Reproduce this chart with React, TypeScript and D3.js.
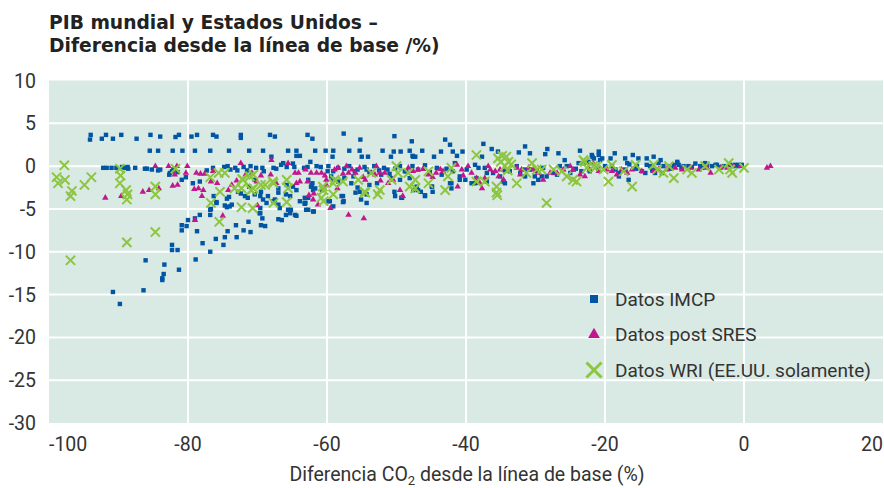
import React, { useEffect, useRef } from 'react';
import * as d3 from 'd3';

type Pt = [number, number];

// Datos IMCP (blue squares) — [CO2 diff %, GDP diff %]
const imcpData: Pt[] = [
  [-94.0, 3.65], [-91.8, 3.65], [-89.6, 3.65], [-85.4, 3.65], [-81.3, 3.65], [-78.7, 3.65], [-76.4, 3.65], [-72.4, 3.65], [-68.2, 3.65], [-62.8, 3.65],
  [-94.1, 3.1], [-92.4, 3.2], [-90.8, 3.2], [-87.4, 3.2], [-84.0, 3.45], [-81.8, 3.4], [-79.5, 3.45], [-75.9, 3.45], [-72.4, 3.3], [-67.5, 3.45], [-62.1, 3.2],
  [-57.6, 3.8], [-55.2, 3.1], [-50.3, 3.5], [-47.8, 2.9], [-43.0, 3.1], [-42.3, 2.5], [-37.5, 2.6], [-31.5, 2.3],
  [-85.5, 1.8], [-84.3, 1.8], [-82.2, 1.8], [-80.8, 1.8], [-79.0, 1.8], [-76.8, 1.8], [-74.1, 1.8], [-71.2, 1.8], [-69.2, 1.8], [-65.6, 1.8], [-64.4, 1.8],
  [-61.7, 1.8], [-60.2, 1.8], [-59.1, 1.8], [-56.8, 1.8], [-55.3, 1.8], [-52.0, 1.8], [-50.4, 1.7], [-49.4, 1.7], [-48.1, 1.8], [-46.3, 1.8], [-43.6, 1.7],
  [-41.9, 1.7], [-40.5, 1.7], [-36.3, 2.0], [-35.4, 1.7], [-32.4, 1.6], [-28.3, 2.0], [-23.6, 1.8],
  [-68.0, 1.1], [-64.4, 1.2], [-63.9, 1.2], [-59.2, 1.1], [-55.0, 1.1], [-54.1, 1.1], [-50.8, 1.1], [-47.6, 1.1], [-47.3, 1.1], [-44.6, 1.1], [-41.3, 1.2],
  [-37.7, 1.1], [-30.8, 1.5], [-28.6, 1.4], [-26.7, 1.5], [-21.9, 1.3], [-21.8, 1.1], [-20.9, 1.7], [-18.6, 1.5], [-16.0, 1.3], [-13.0, 1.1], [-20.4, 0.9],
  [-21.6, 0.9], [-17.1, 0.9], [-15.2, 0.9], [-12.0, 0.7], [-25.8, 0.7], [-9.6, 0.5], [-7.0, 0.3], [-5.6, 0.35],
  [-62.4, 0.5], [-66.3, 0.35], [-66.6, 0.15], [-64.9, 0.3], [-41.6, 0.35], [-23.1, 0.35], [-22.4, 0.5], [-20.7, 0.7], [-12.3, 0.35],
  [-92.2, -0.2], [-91.7, -0.2], [-91.0, -0.2], [-90.3, -0.2], [-89.5, -0.1], [-89.1, -0.2], [-88.7, -0.1], [-88.6, -0.3], [-87.6, -0.2], [-86.2, -0.3],
  [-85.9, -0.3], [-85.2, -0.4], [-84.3, -0.5], [-84.0, -0.4], [-82.6, -0.8], [-82.3, -0.6], [-82.1, -0.4], [-81.5, -0.7], [-82.7, -1.0], [-80.9, -1.6],
  [-80.3, -1.3], [-79.3, -2.0], [-78.3, -1.8], [-77.3, -0.5], [-76.4, -0.2], [-74.8, -0.1], [-74.3, 0], [-73.9, -0.4], [-73.2, -0.2], [-72.9, -0.5],
  [-72.0, -0.1], [-71.5, -0.5], [-71.0, 0], [-70.2, -0.2], [-69.3, -0.2], [-69.1, -0.6], [-67.7, -0.2], [-67.3, -0.3], [-65.8, -0.1], [-64.7, -0.1],
  [-63.3, -0.2], [-62.8, -0.1], [-61.5, 0], [-60.9, -0.1], [-59.8, 0], [-59.1, -0.6], [-58.4, -0.2],
  [-57.5, -0.3], [-56.8, 0], [-56.2, -1.2], [-55.6, -0.4], [-54.6, -0.1], [-53.9, -0.7], [-53.2, 0], [-52.5, -0.5], [-51.8, -0.2], [-51.0, -0.9],
  [-50.2, -0.3], [-49.5, 0], [-48.6, -0.6], [-47.7, 0], [-47.7, 1.2], [-46.9, -0.4], [-45.9, 0.1], [-45.2, -0.7], [-44.2, -0.2], [-43.5, -1.0],
  [-42.8, -0.3], [-41.9, -0.6], [-40.9, -1.2], [-39.9, -0.4], [-38.7, 0.15], [-38.2, -0.2], [-38.5, -1.4], [-37.3, -0.2], [-37.0, -0.8], [-36.1, -0.8],
  [-35.1, -1.2], [-34.4, -2.0], [-34.4, -0.5], [-33.7, -0.6], [-32.7, 0], [-31.5, -0.4], [-30.8, -0.4], [-30.3, -2.0], [-30.1, -1.2], [-29.8, -0.6],
  [-29.6, -1.6], [-28.9, -0.2], [-28.4, -1.2], [-27.4, -0.8], [-26.5, 0], [-25.0, -0.8], [-24.2, -0.3], [-22.2, -0.6], [-21.0, -0.3],
  [-20.0, 0], [-19.0, 0], [-18.5, -0.4], [-18.0, -0.8], [-17.1, -0.4], [-16.5, 0.2], [-15.4, 0], [-14.7, -0.6], [-14.2, -0.8], [-14.0, 0.15],
  [-13.5, 0], [-12.8, -0.4], [-11.6, 0], [-10.8, 0], [-10.1, 0.15], [-9.4, 0.15], [-8.7, 0], [-8.0, 0], [-6.3, 0], [-5.3, 0.15], [-4.6, 0],
  [-4.1, 0.15], [-3.9, 0.15], [-2.9, 0], [-2.0, 0.15], [-1.3, 0.15], [-0.8, 0.15], [-0.3, 0.15], [-0.8, 0],
  [-74.1, -3.6], [-73.7, -4.5], [-74.7, -4.6], [-75.9, -4.3], [-76.7, -5.0], [-76.3, -3.5], [-72.4, -3.2], [-71.8, -3.5], [-71.2, -2.4], [-70.4, -3.3],
  [-69.6, -3.5], [-69.2, -3.9], [-68.7, -4.3], [-67.7, -4.1], [-67.0, -3.1], [-65.8, -2.2], [-65.3, -3.5], [-63.9, -4.1], [-63.2, -4.3], [-62.7, -3.7],
  [-62.2, -2.2], [-62.0, -2.8], [-61.9, -5.3], [-60.7, -2.8], [-59.6, -4.1], [-59.1, -4.7], [-59.1, -1.6], [-62.1, -2.0], [-61.7, -2.6], [-63.2, -3.7],
  [-63.0, -5.1], [-59.8, -4.1], [-57.7, -3.5], [-57.6, -4.1], [-55.6, -2.5], [-55.3, -3.0], [-54.3, -3.3], [-54.3, -4.3], [-52.8, -2.0], [-50.2, -3.5],
  [-49.2, -3.7], [-47.6, -2.8], [-46.5, -3.0], [-45.9, -3.5], [-44.9, -2.4], [-42.1, -2.0], [-42.1, -2.6], [-46.9, -2.8], [-45.9, -3.4], [-44.8, -3.0],
  [-42.3, -2.0], [-39.2, -2.0], [-57.7, -4.2], [-57.9, -3.5], [-55.9, -3.1], [-55.1, -3.9], [-49.3, -3.7], [-50.3, -3.0], [-75.9, -4.2], [-74.4, -3.8],
  [-74.4, -4.8], [-67.5, -3.9], [-66.8, -4.9], [-69.7, -5.5], [-65.6, -5.1], [-62.7, -5.1], [-63.1, -4.3],
  [-79.0, -6.1], [-78.3, -5.7], [-80.0, -6.3], [-80.9, -6.9], [-80.2, -7.0], [-80.9, -7.5], [-78.7, -7.6], [-76.8, -5.7], [-76.8, -5.1], [-77.9, -9.0],
  [-76.8, -10.0], [-82.3, -9.2], [-82.3, -9.8], [-81.5, -9.8], [-78.9, -10.9], [-81.3, -12.1], [-83.4, -11.5], [-83.5, -12.6], [-83.7, -13.1], [-83.7, -13.3],
  [-86.1, -11.0], [-86.4, -14.5], [-90.8, -14.7], [-89.8, -16.1], [-76.0, -8.5], [-74.9, -9.2], [-74.7, -8.3], [-74.3, -7.6], [-73.1, -6.9], [-73.0, -8.3],
  [-72.0, -7.5], [-71.3, -6.5], [-71.0, -7.7], [-69.6, -5.5], [-69.3, -6.1], [-69.5, -6.9], [-68.9, -7.0], [-67.0, -6.2], [-66.5, -6.3], [-65.9, -5.7],
  [-65.3, -5.5], [-64.6, -5.7], [-64.4, -5.8], [-65.2, -5.1], [-63.2, -4.4], [-62.0, -5.3], [-67.0, -4.5], [-69.6, -4.9],
  [-74.0, -4.7], [-72.8, -3.0], [-71.4, -3.7], [-70.4, -1.6], [-69.5, -3.0], [-68.5, -3.5], [-67.0, -2.6], [-65.9, -3.3], [-64.9, -2.4], [-64.4, -2.8],
  [-62.7, -1.6], [-62.3, -2.4], [-59.9, -0.6], [-59.4, -1.2], [-58.4, -1.8], [-57.5, -1.4], [-56.0, -0.6], [-56.5, -2.0], [-54.3, -0.4], [-53.9, -2.2],
  [-52.2, -1.0], [-51.3, -0.4], [-50.7, -1.4], [-49.5, -1.6], [-48.8, -0.6], [-48.1, -1.4],
  [-47.1, -2.4], [-44.9, -2.4], [-40.9, -1.6], [-40.1, -1.6], [-38.7, -2.0], [-37.0, -1.8], [-34.6, -1.8], [-32.2, -0.8], [-31.5, -1.2], [-29.1, -1.2],
  [-26.9, -1.0], [-25.5, 0], [-24.5, -0.4], [-23.8, 0.35], [-23.4, -0.6],
  [-20.9, 1.3], [-19.2, 0.9], [-16.8, 0.35], [-14.0, 0.9], [-12.8, -0.8], [-11.8, -0.8], [-9.6, 0.35], [-18.0, -1.2], [-16.6, -1.6], [-15.5, -0.3],
  [-13.2, -0.5], [-10.5, -0.3], [-9.0, -0.2], [-7.5, -0.1], [-6.0, -0.2], [-3.3, -0.1], [-1.6, 0],
];

// Datos post SRES (magenta triangles)
const sresData: Pt[] = [
  [-91.9, -3.7], [-89.6, -3.5], [-86.5, -3.0], [-85.6, -2.8], [-84.7, 0], [-84.2, -2.6], [-82.8, 0], [-82.2, -2.3], [-81.9, -1.0], [-81.5, -2.2],
  [-81.6, 0], [-80.3, -0.8], [-80.1, 0], [-78.8, -0.8], [-78.2, -0.9], [-77.6, -0.9], [-79.1, -2.7], [-78.5, -2.6], [-77.8, -2.8], [-78.0, -3.5],
  [-79.0, -6.3], [-76.7, -1.8], [-76.4, -0.6], [-75.8, -2.0], [-75.0, -5.8], [-74.2, -2.8], [-73.7, -2.2], [-73.0, -1.7], [-72.4, 0.35], [-71.7, -1.0],
  [-70.8, -0.8], [-70.1, -1.8], [-70.0, -4.6], [-69.5, -1.1], [-68.0, 0.7], [-68.1, -1.0], [-67.3, -2.0], [-65.6, 0.35], [-64.4, -2.0], [-64.1, -0.8],
  [-64.6, -0.8], [-63.9, -1.8], [-63.1, -0.4], [-62.8, -1.8], [-62.6, -3.4], [-62.3, -0.8], [-61.9, -3.2], [-62.0, -3.9], [-61.5, -0.8], [-61.3, -4.5],
  [-60.8, -0.8], [-60.3, -1.1], [-60.1, -2.2], [-60.1, -1.6], [-59.5, -4.9], [-58.9, -0.4], [-58.5, -2.6], [-58.4, -0.2], [-57.7, -0.9], [-57.2, 0],
  [-56.9, -0.8], [-56.9, -5.7], [-56.4, -0.4], [-55.9, -0.8], [-55.3, -0.2], [-54.8, -1.3], [-54.7, -6.1], [-54.5, -1.6], [-53.6, -0.8], [-53.1, -1.0],
  [-52.9, 0], [-52.4, -0.8], [-52.3, -1.7], [-51.7, -0.8], [-51.2, -2.0], [-50.5, -1.6], [-49.5, -2.8], [-49.1, -3.5], [-48.3, -0.2], [-47.6, -0.6],
  [-46.9, -0.4], [-46.2, -0.35], [-45.4, -1.0], [-44.8, -1.3], [-44.3, -0.8], [-43.7, -0.35], [-43.3, -0.6], [-41.3, 0.15], [-41.2, -2.4], [-40.6, -0.4],
  [-40.4, -1.1], [-39.7, 0], [-39.2, -0.8], [-38.5, -1.4], [-38.0, -2.0], [-37.7, -2.6], [-37.3, -1.4], [-36.8, 0], [-36.5, -0.4], [-35.8, -0.6],
  [-35.3, -1.2], [-35.1, -0.4], [-34.6, -1.6], [-32.7, -0.2], [-32.2, -1.0], [-32.0, -0.4], [-31.0, -0.2], [-30.3, -0.4], [-29.6, -0.8], [-28.9, -1.6],
  [-27.9, -0.8], [-26.9, -0.8], [-26.0, -0.4], [-25.0, 0], [-24.6, -0.4], [-23.6, -1.0], [-22.9, -1.2], [-22.2, -0.4], [-21.7, 0.35], [-20.9, -0.6],
  [-19.7, -0.4], [-19.0, -0.6], [-18.3, -1.0], [-17.6, -0.4], [-16.8, -0.8], [-16.1, -0.4], [-14.7, -0.6], [-13.0, -0.6], [-12.3, -0.35], [-11.1, -0.4],
  [-9.9, -0.2], [-8.9, -0.4], [-7.7, -0.2], [-6.5, -0.4], [-5.3, -0.2], [-4.8, -0.8], [-3.4, -0.2], [-2.4, -0.2], [-1.5, 0], [-0.5, 0],
  [3.3, -0.2], [3.8, 0],
];

// Datos WRI, EE.UU. solamente (green crosses)
const wriData: Pt[] = [
  [-97.8, 0.1], [-98.9, -1.3], [-98.7, -2.0], [-97.7, -1.6], [-96.7, -2.9], [-96.9, -3.5], [-94.9, -2.2], [-93.9, -1.3], [-96.9, -11.0], [-89.8, -0.3],
  [-89.7, -1.1], [-89.8, -2.0], [-88.9, -2.8], [-88.7, -3.3], [-88.8, -3.9], [-88.8, -8.9], [-84.7, -2.4], [-84.7, -3.3], [-84.7, -7.7], [-81.8, -0.3],
  [-76.8, -1.3], [-76.7, -4.3], [-75.5, -6.5], [-75.6, -0.8], [-74.7, -0.8], [-75.4, -3.0], [-73.3, -2.6], [-72.2, -1.5], [-72.3, -4.8], [-71.1, -1.2],
  [-70.6, -2.6], [-70.7, -4.9], [-68.9, -2.2], [-67.7, -2.0], [-67.7, -4.3], [-65.8, -1.6], [-65.8, -4.2], [-60.5, -2.8], [-60.5, -4.1], [-59.1, -2.0],
  [-59.1, -3.3], [-72.1, -1.6], [-72.3, -2.6], [-70.6, -1.0], [-70.9, -2.8], [-69.5, -2.2], [-67.8, -1.8], [-65.6, -2.6], [-60.6, -2.4], [-60.8, -3.7],
  [-58.9, -1.6], [-57.7, -1.8], [-55.5, -1.6], [-54.6, -3.0], [-53.6, -0.8], [-52.4, -2.8], [-52.7, -3.3], [-50.0, 0], [-49.8, -0.8], [-48.3, -0.8],
  [-48.1, -2.4], [-54.5, -3.1], [-50.7, -1.6], [-47.3, -1.6], [-47.3, -2.6], [-45.4, -0.6], [-45.4, -2.0], [-43.0, -2.8], [-42.6, -1.2], [-42.1, -0.2],
  [-38.5, 1.3], [-38.5, -1.8], [-37.3, -1.8], [-35.6, -2.4], [-35.6, -3.1], [-35.5, -3.4], [-35.4, 0.9], [-34.4, 0], [-34.2, 1.1], [-33.9, 0.5],
  [-35.0, 0.5], [-34.8, 1.2], [-34.0, -0.5], [-33.5, 0.2], [-32.7, -2.0], [-31.3, -0.8], [-30.5, 0.35], [-29.8, -0.4], [-29.1, -0.4], [-28.4, -4.3],
  [-27.4, -0.4], [-26.2, -0.6], [-25.5, -1.2], [-24.6, -1.6], [-24.1, -1.8], [-23.1, 0.7], [-22.9, 0.5], [-22.6, -0.2], [-21.7, 0], [-21.2, 0],
  [-20.2, -0.4], [-19.5, -1.8], [-19.0, 0.15], [-17.3, -0.6], [-16.1, -2.4], [-15.6, 0.15], [-13.0, 0.15], [-12.5, -0.4], [-11.6, -0.8], [-10.8, 0],
  [-10.1, -1.4], [-8.2, -0.4], [-7.5, -0.8], [-5.6, 0], [-3.6, -0.4], [-2.2, 0.35], [-2.0, -0.4], [-1.7, -0.8], [0, -0.2],
];

const xTicks = [-100, -80, -60, -40, -20, 0, 20];
const yTicks = [10, 5, 0, -5, -10, -15, -20, -25, -30];
const titleLines = ['PIB mundial y Estados Unidos –', 'Diferencia desde la línea de base /%)'];
const legendItems = [
  { label: 'Datos IMCP', kind: 'square' },
  { label: 'Datos post SRES', kind: 'triangle' },
  { label: 'Datos WRI (EE.UU. solamente)', kind: 'cross' },
];

const BLUE = '#0055a5';
const MAGENTA = '#c2178c';
const GREEN = '#8cc63f';
const BG = '#d9e9e3';
const TEXT = '#333333';
const TICK_FONT = 'Roboto, sans-serif';

const crossPath = (r: number) => `M${-r},${-r}L${r},${r}M${-r},${r}L${r},${-r}`;

export default function App() {
  const svgRef = useRef<SVGSVGElement>(null);

  useEffect(() => {
    if (!svgRef.current) return;
    const width = 884;
    const height = 488;
    const m = { left: 49, right: 1, top: 80.5, bottom: 65 };

    const svg = d3.select(svgRef.current);
    svg.selectAll('*').remove();

    const x = d3.scaleLinear().domain([-100, 20]).range([m.left, width - m.right]);
    const y = d3.scaleLinear().domain([-30, 10]).range([height - m.bottom, m.top]);

    // title
    svg.append('g')
      .selectAll('text')
      .data(titleLines)
      .enter()
      .append('text')
      .attr('x', 49)
      .attr('y', (_, i) => 29 + i * 23)
      .attr('font-family', '"DejaVu Sans", sans-serif')
      .attr('font-weight', 'bold')
      .attr('font-size', 18.7)
      .attr('fill', '#222')
      .text(d => d);

    // plot background
    svg.append('rect')
      .attr('x', x(-100))
      .attr('y', y(10))
      .attr('width', x(20) - x(-100))
      .attr('height', y(-30) - y(10))
      .attr('fill', BG);

    // grid
    const grid = svg.append('g');
    grid.selectAll('line.v')
      .data(xTicks.filter(t => t > -100 && t < 20))
      .enter()
      .append('line')
      .attr('x1', d => x(d)).attr('x2', d => x(d))
      .attr('y1', y(10)).attr('y2', y(-30))
      .attr('stroke', '#fff').attr('stroke-width', 2);
    grid.selectAll('line.h')
      .data(yTicks.filter(t => t > -30 && t < 10))
      .enter()
      .append('line')
      .attr('x1', x(-100)).attr('x2', x(20))
      .attr('y1', d => y(d)).attr('y2', d => y(d))
      .attr('stroke', '#fff').attr('stroke-width', 2);

    // y tick labels
    svg.append('g')
      .selectAll('text')
      .data(yTicks)
      .enter()
      .append('text')
      .attr('x', 36)
      .attr('y', d => y(d))
      .attr('dy', '0.36em')
      .attr('text-anchor', 'end')
      .attr('font-family', TICK_FONT)
      .attr('font-size', 19.5)
      .attr('fill', TEXT)
      .text(d => String(d));

    // x tick labels
    svg.append('g')
      .selectAll('text')
      .data(xTicks)
      .enter()
      .append('text')
      .attr('x', d => x(d))
      .attr('y', 451)
      .attr('text-anchor', (d, i) => (i === 0 ? 'start' : i === xTicks.length - 1 ? 'end' : 'middle'))
      .attr('font-family', TICK_FONT)
      .attr('font-size', 19.5)
      .attr('fill', TEXT)
      .text(d => String(d));

    // x axis title
    const xt = svg.append('text')
      .attr('x', 467)
      .attr('y', 481)
      .attr('text-anchor', 'middle')
      .attr('font-family', TICK_FONT)
      .attr('font-size', 19.5)
      .attr('fill', TEXT);
    xt.append('tspan').text('Diferencia CO');
    xt.append('tspan').attr('font-size', 13).attr('dy', 4).text('2');
    xt.append('tspan').attr('dy', -4).text(' desde la línea de base (%)');

    // points
    const pts = svg.append('g');
    pts.selectAll('rect.imcp')
      .data(imcpData)
      .enter()
      .append('rect')
      .attr('x', d => x(d[0]) - 2.2)
      .attr('y', d => y(d[1]) - 2.2)
      .attr('width', 4.4)
      .attr('height', 4.4)
      .attr('fill', BLUE);

    const tri = d3.symbol().type(d3.symbolTriangle).size(18)();
    pts.selectAll('path.sres')
      .data(sresData)
      .enter()
      .append('path')
      .attr('d', tri)
      .attr('transform', d => `translate(${x(d[0])},${y(d[1])})`)
      .attr('fill', MAGENTA);

    pts.selectAll('path.wri')
      .data(wriData)
      .enter()
      .append('path')
      .attr('d', crossPath(4.6))
      .attr('transform', d => `translate(${x(d[0])},${y(d[1])})`)
      .attr('fill', 'none')
      .attr('stroke', GREEN)
      .attr('stroke-width', 2);

    // legend
    const lg = svg.append('g')
      .selectAll('g')
      .data(legendItems)
      .enter()
      .append('g')
      .attr('transform', (_, i) => `translate(594,${299 + i * 35.5})`);
    lg.each(function (d) {
      const g = d3.select(this);
      if (d.kind === 'square') {
        g.append('rect').attr('x', -4).attr('y', -4).attr('width', 8).attr('height', 8).attr('fill', BLUE);
      } else if (d.kind === 'triangle') {
        g.append('path').attr('d', d3.symbol().type(d3.symbolTriangle).size(60)()).attr('fill', MAGENTA);
      } else {
        g.append('path').attr('d', crossPath(7.5)).attr('stroke', GREEN).attr('stroke-width', 3).attr('fill', 'none');
      }
    });
    lg.append('text')
      .attr('x', 21)
      .attr('y', 0)
      .attr('dy', '0.36em')
      .attr('font-family', TICK_FONT)
      .attr('font-size', 19)
      .attr('fill', TEXT)
      .text(d => d.label);
  }, []);

  return (
    <div style={{ width: 884, height: 488 }}>
      <style>{'body{margin:0}'}</style>
      <svg ref={svgRef} width={884} height={488} style={{ display: 'block', background: '#fff' }} />
    </div>
  );
}
